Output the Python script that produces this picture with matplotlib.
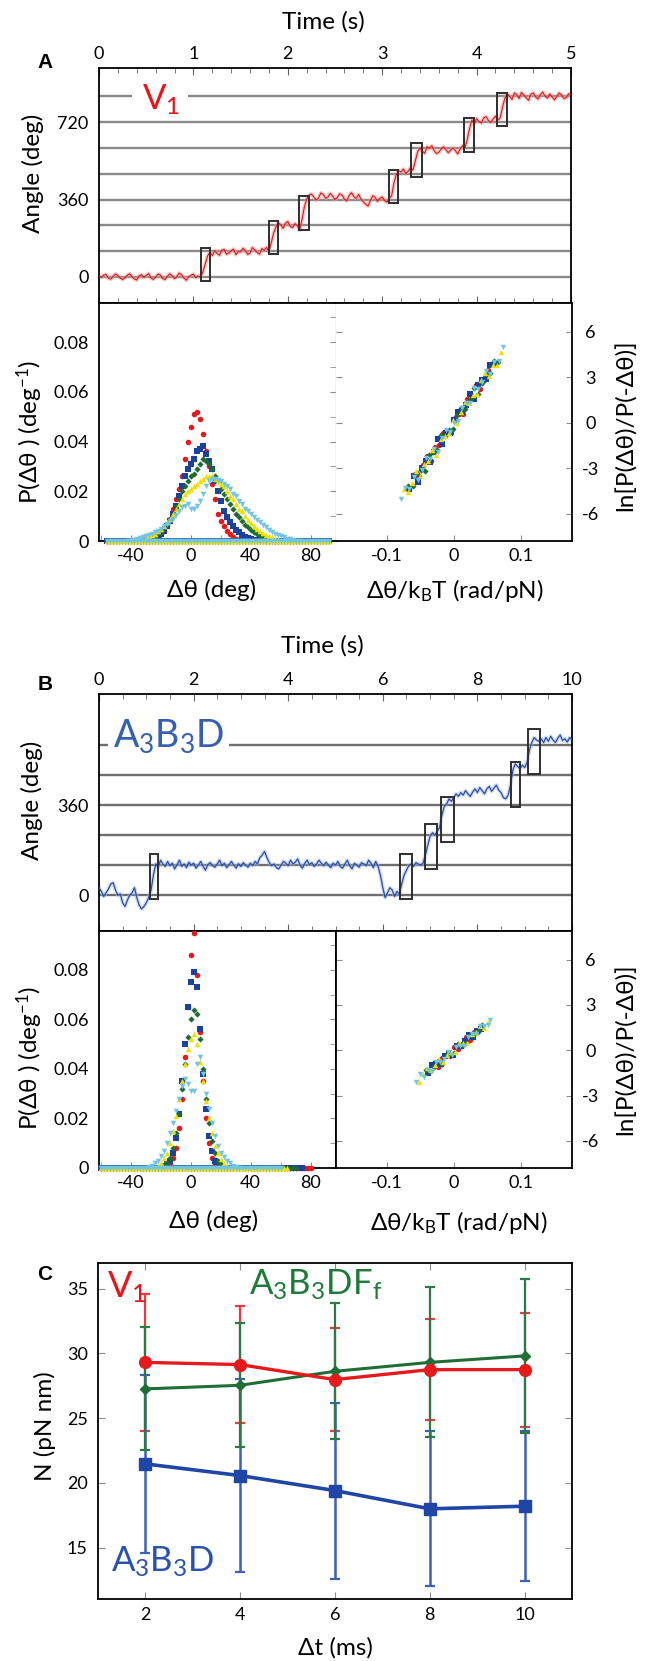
import numpy as np
import matplotlib
matplotlib.use("Agg")
import matplotlib.pyplot as plt
from matplotlib.patches import Rectangle
from matplotlib.ticker import MultipleLocator

plt.rcParams['font.family'] = ['Lato', 'DejaVu Sans']
plt.rcParams['mathtext.default'] = 'regular'
plt.rcParams['axes.unicode_minus'] = False

# ====================== DATA ======================
# ---- Panel A : V1 rotation trace (angle, deg; sampled every 0.025 s) ----
trace_a_dt = 0.025
trace_a_angle = [
    4, -2, 9, 12, -6, -10, 3, 14, 6, -5,
    -12, -3, 8, 15, 2, -9, -14, 5, 11, -2,
    7, 16, -4, -11, 0, 13, 9, -7, -12, 3,
    15, 6, -8, 2, 18, 10, -5, -15, 1, 8,
    13, -3, 5, 0, 22, 60, 98, 115, 100, 122,
    110, 101, 124, 128, 106, 112, 121, 130, 104, 118,
    117, 133, 122, 105, 111, 137, 126, 114, 106, 132,
    124, 138, 118, 160, 205, 233, 252, 244, 226, 250,
    258, 236, 229, 248, 240, 218, 265, 325, 362, 380,
    386, 372, 358, 368, 391, 384, 366, 372, 389, 376,
    360, 371, 387, 381, 362, 354, 379, 392, 373, 366,
    384, 362, 350, 338, 330, 356, 378, 370, 352, 366,
    372, 355, 348, 366, 378, 438, 478, 495, 488, 502,
    480, 492, 508, 497, 538, 582, 600, 585, 575, 606,
    598, 610, 588, 574, 580, 596, 605, 592, 578, 590,
    600, 588, 572, 594, 610, 598, 638, 690, 730, 712,
    736, 724, 716, 740, 746, 728, 719, 734, 748, 730,
    740, 790, 832, 852, 840, 826, 856, 848, 830, 858,
    846, 834, 822, 850, 856, 838, 828, 848, 860, 842,
    832, 851, 838, 824, 840, 856, 846, 830, 834, 852,
    848]
a_levels = [0, 120, 240, 360, 480, 600, 720, 840]
a_yticks = [0, 360, 720]
a_label_level = 840
a_label_gap = (0.35, 0.94)
# dwell-to-step boxes: start time, end time, lower angle, upper angle
a_box_t0 = [1.08, 1.80, 2.12, 3.07, 3.31, 3.87, 4.22]
a_box_t1 = [1.18, 1.90, 2.22, 3.17, 3.42, 3.97, 4.32]
a_box_y0 = [-20, 105, 220, 345, 465, 580, 702]
a_box_y1 = [135, 260, 375, 498, 622, 740, 858]

# ---- Panel A : histograms P(dtheta), 2-deg bins (start bin, values) ----
hA_red_start = -30
hA_red = [0, 0.0003, 0.0005, 0.001, 0.0015, 0.003, 0.004, 0.006, 0.009, 0.013,
          0.017, 0.021, 0.026, 0.033, 0.040, 0.046, 0.051, 0.052, 0.049, 0.043,
          0.036, 0.030, 0.023, 0.017, 0.011, 0.008, 0.006, 0.004, 0.0028, 0.0018,
          0.001, 0.0006, 0.0003, 0]
hA_blue_start = -32
hA_blue = [0, 0.0003, 0.0005, 0.001, 0.0015, 0.002, 0.003, 0.004, 0.006, 0.008,
           0.011, 0.014, 0.018, 0.022, 0.026, 0.029, 0.031, 0.033, 0.036, 0.037,
           0.038, 0.035, 0.032, 0.029, 0.024, 0.020, 0.016, 0.012, 0.0095, 0.0075,
           0.006, 0.0045, 0.0035, 0.0025, 0.0018, 0.0012, 0.0008, 0.0005, 0.0003, 0]
hA_green_start = -34
hA_green = [0, 0.0003, 0.0005, 0.001, 0.0015, 0.002, 0.003, 0.004, 0.0055, 0.007,
            0.009, 0.011, 0.014, 0.017, 0.020, 0.022, 0.024, 0.026, 0.027, 0.029,
            0.031, 0.033, 0.032, 0.031, 0.029, 0.026, 0.024, 0.021, 0.019, 0.017,
            0.015, 0.013, 0.011, 0.0095, 0.008, 0.0065, 0.0055, 0.0045, 0.0035, 0.0028,
            0.002, 0.0015, 0.001, 0.0007, 0.0004, 0.0002, 0]
hA_yellow_start = -38
hA_yellow = [0, 0.0003, 0.0005, 0.001, 0.0015, 0.002, 0.0025, 0.003, 0.004, 0.005,
             0.006, 0.0075, 0.009, 0.011, 0.013, 0.015, 0.017, 0.019, 0.020, 0.021,
             0.022, 0.023, 0.024, 0.025, 0.026, 0.026, 0.026, 0.025, 0.024, 0.023,
             0.022, 0.020, 0.018, 0.017, 0.015, 0.013, 0.012, 0.010, 0.0085, 0.0072,
             0.006, 0.005, 0.004, 0.0032, 0.0025, 0.002, 0.0015, 0.001, 0.0007, 0.0004,
             0.0002, 0]
hA_cyan_start = -42
hA_cyan = [0, 0.0003, 0.0005, 0.001, 0.0012, 0.0015, 0.002, 0.0025, 0.003, 0.0035,
           0.004, 0.005, 0.006, 0.007, 0.008, 0.009, 0.0105, 0.012, 0.0135, 0.014,
           0.015, 0.013, 0.013, 0.014, 0.016, 0.019, 0.022, 0.024, 0.025, 0.025,
           0.0245, 0.024, 0.023, 0.022, 0.021, 0.019, 0.018, 0.016, 0.015, 0.013,
           0.012, 0.011, 0.0095, 0.0085, 0.0075, 0.0065, 0.0055, 0.0045, 0.0035, 0.003,
           0.0025, 0.002, 0.0015, 0.001, 0.0007, 0.0004, 0.0002, 0]
hA_zero_range = (-56, 92)

# ---- Panel A : fluctuation theorem plot ----
fA_red_x = [-0.058, -0.052, -0.046, -0.040, -0.034, -0.028, -0.022, -0.016, -0.010, -0.004,
            0.002, 0.008, 0.014, 0.020, 0.026, 0.032, 0.038, 0.044, 0.050]
fA_red_y = [-3.4, -3.5, -2.8, -2.2, -2.5, -1.6, -1.5, -0.7, -0.6, -0.7,
            0.3, 0.6, 0.6, 1.6, 1.6, 2.5, 2.2, 2.8, 3.5]
fA_blue_x = [-0.066, -0.060, -0.054, -0.048, -0.042, -0.036, -0.030, -0.024, -0.018, -0.012, -0.006,
             0.000, 0.006, 0.012, 0.018, 0.024, 0.030, 0.036, 0.042, 0.048, 0.054, 0.060]
fA_blue_y = [-4.4, -3.5, -3.9, -3.0, -2.5, -2.6, -1.9, -1.1, -1.4, -0.7, -0.7,
             0.2, 0.7, 0.7, 1.2, 1.9, 1.6, 2.5, 2.8, 2.9, 3.8, 3.8]
fA_green_x = [-0.068, -0.061, -0.055, -0.049, -0.043, -0.037, -0.031, -0.025, -0.019, -0.013, -0.007,
              -0.001, 0.005, 0.011, 0.017, 0.023, 0.029, 0.035, 0.041, 0.047, 0.053, 0.059, 0.065]
fA_green_y = [-4.2, -4.2, -3.3, -3.1, -3.2, -2.1, -1.9, -1.8, -0.8, -0.9, -0.5,
              -0.4, 0.5, 1.0, 0.9, 1.6, 2.3, 1.9, 2.6, 3.2, 3.3, 4.1, 4.0]
fA_yellow_x = [-0.074, -0.068, -0.062, -0.056, -0.050, -0.044, -0.038, -0.032, -0.026, -0.020, -0.014,
               -0.008, -0.002, 0.004, 0.010, 0.016, 0.022, 0.028, 0.034, 0.040, 0.046, 0.052, 0.058,
               0.064, 0.070]
fA_yellow_y = [-4.4, -4.6, -4.0, -3.2, -3.5, -2.7, -2.5, -1.8, -2.1, -1.1, -0.9,
               -0.7, 0.2, 0.0, 0.7, 1.4, 1.3, 1.8, 1.9, 2.8, 3.3, 3.1, 3.8, 3.8, 4.7]
fA_cyan_x = [-0.079, -0.072, -0.066, -0.060, -0.054, -0.048, -0.042, -0.036, -0.030, -0.024, -0.018,
             -0.012, -0.006, 0.000, 0.006, 0.012, 0.018, 0.024, 0.030, 0.036, 0.042, 0.048, 0.054,
             0.060, 0.066, 0.072]
fA_cyan_y = [-5.0, -4.3, -4.4, -3.6, -3.8, -3.1, -2.3, -2.4, -1.7, -1.9, -1.0,
             -0.5, -0.6, 0.0, 0.1, 1.0, 1.3, 1.3, 2.3, 2.2, 2.7, 3.4, 3.2, 4.0, 4.1, 5.0]

# ---- Panel B : A3B3D rotation trace (angle, deg; sampled every 0.05 s) ----
trace_b_dt = 0.05
trace_b_angle = [
    30, 15, -5, 10, 25, 45, 50, 20, 0, 5,
    -30, -45, -20, 0, 10, 30, -10, -40, -55, -45,
    -30, -10, 20, 80, 125, 110, 140, 125, 115, 135,
    118, 128, 105, 122, 140, 115, 125, 110, 132, 120,
    128, 108, 120, 135, 115, 100, 122, 130, 118, 112,
    125, 140, 118, 128, 110, 122, 135, 120, 108, 126,
    115, 130, 120, 112, 128, 118, 135, 125, 150, 160,
    175, 150, 130, 118, 125, 110, 105, 120, 135, 128,
    118, 140, 125, 132, 145, 120, 108, 128, 140, 122,
    130, 115, 125, 140, 128, 118, 132, 120, 110, 128,
    120, 135, 115, 108, 125, 140, 118, 105, 128, 120,
    112, 130, 125, 118, 140, 128, 110, 135, 115, 80,
    30, -10, 10, 30, 20, -5, 15, 5, 45, 80,
    100, 118, 125, 115, 130, 125, 120, 128, 160, 200,
    235, 250, 240, 255, 270, 320, 355, 365, 385, 375,
    390, 405, 395, 410, 400, 418, 405, 395, 412, 425,
    410, 430, 418, 405, 425, 435, 415, 428, 440, 420,
    410, 390, 385, 400, 440, 500, 525, 515, 505, 520,
    510, 530, 580, 610, 630, 620, 615, 625, 610, 630,
    615, 635, 620, 610, 628, 640, 618, 625, 612, 630,
    620]
b_levels = [0, 120, 240, 360, 480, 600]
b_yticks = [0, 360]
b_label_level = 600
b_label_gap = (0.19, 2.74)
b_box_t0 = [1.07, 6.36, 6.89, 7.24, 8.72, 9.07]
b_box_t1 = [1.24, 6.62, 7.15, 7.50, 8.90, 9.32]
b_box_y0 = [-16, -16, 103, 211, 351, 484]
b_box_y1 = [164, 164, 283, 391, 531, 665]

# ---- Panel B : histograms ----
hB_red_start = -20
hB_red = [0, 0.0005, 0.001, 0.002, 0.004, 0.008, 0.016, 0.028, 0.045, 0.065,
          0.086, 0.095, 0.078, 0.055, 0.035, 0.020, 0.010, 0.004, 0.0015, 0.0005, 0]
hB_blue_start = -20
hB_blue = [0, 0.0007, 0.0015, 0.003, 0.006, 0.012, 0.022, 0.035, 0.050, 0.065,
           0.075, 0.079, 0.073, 0.056, 0.038, 0.024, 0.013, 0.007, 0.003, 0.0012, 0.0005, 0]
hB_green_start = -22
hB_green = [0, 0.0005, 0.001, 0.002, 0.004, 0.008, 0.014, 0.022, 0.032, 0.042,
            0.053, 0.060, 0.064, 0.062, 0.052, 0.040, 0.028, 0.018, 0.011, 0.006,
            0.003, 0.0015, 0.0007, 0]
hB_yellow_start = -26
hB_yellow = [0, 0.0005, 0.001, 0.002, 0.004, 0.006, 0.010, 0.015, 0.021, 0.028,
             0.035, 0.042, 0.048, 0.052, 0.054, 0.050, 0.043, 0.035, 0.027, 0.020,
             0.014, 0.009, 0.006, 0.0035, 0.002, 0.001, 0.0005, 0]
hB_cyan_start = -30
hB_cyan = [0, 0.0005, 0.001, 0.002, 0.003, 0.005, 0.007, 0.010, 0.014, 0.018,
           0.023, 0.028, 0.033, 0.036, 0.034, 0.031, 0.031, 0.042, 0.045, 0.038,
           0.030, 0.024, 0.018, 0.013, 0.009, 0.006, 0.0045, 0.003, 0.002, 0.001,
           0.0005, 0]
hB_zero_hi = {'red': 80, 'blue': 74, 'green': 70, 'yellow': 64, 'cyan': 60}
hB_zero_lo = -60

# ---- Panel B : fluctuation theorem plot ----
fB_red_x = [-0.030, -0.024, -0.018, -0.012, -0.006, 0.000, 0.006, 0.012, 0.018, 0.024, 0.030]
fB_red_y = [-1.0, -1.1, -0.5, -0.4, -0.4, 0.2, 0.1, 0.4, 0.9, 0.7, 1.2]
fB_blue_x = [-0.038, -0.032, -0.026, -0.020, -0.014, -0.008, -0.002, 0.004, 0.010, 0.016, 0.022,
             0.028, 0.034, 0.040]
fB_blue_y = [-1.5, -1.0, -0.9, -0.9, -0.4, -0.2, -0.3, 0.3, 0.3, 0.6, 1.0, 0.9, 1.3, 1.4]
fB_green_x = [-0.042, -0.036, -0.030, -0.024, -0.018, -0.012, -0.006, 0.000, 0.006, 0.012, 0.018,
              0.024, 0.030, 0.036, 0.042]
fB_green_y = [-1.3, -1.4, -1.1, -0.7, -0.9, -0.3, -0.2, -0.2, 0.4, 0.4, 0.5, 1.0, 1.1, 1.2, 1.7]
fB_yellow_x = [-0.052, -0.046, -0.040, -0.034, -0.028, -0.022, -0.016, -0.010, -0.004, 0.002, 0.008,
               0.014, 0.020, 0.026, 0.032, 0.038, 0.044, 0.050]
fB_yellow_y = [-2.1, -1.6, -1.2, -1.3, -1.0, -0.6, -0.8, -0.3, -0.1, -0.1, 0.5, 0.5, 0.5,
               1.1, 1.2, 1.6, 1.5, 1.9]
fB_cyan_x = [-0.057, -0.051, -0.045, -0.039, -0.033, -0.027, -0.021, -0.015, -0.009, -0.003, 0.003,
             0.009, 0.015, 0.021, 0.027, 0.033, 0.039, 0.045, 0.051, 0.054]
fB_cyan_y = [-2.1, -1.6, -1.8, -1.3, -1.4, -0.8, -0.8, -0.6, -0.1, -0.3, 0.2,
             0.3, 0.3, 0.9, 1.1, 1.1, 1.6, 1.6, 1.7, 2.0]

# ---- Panel C : torque vs. time interval ----
dt_ms = [2, 4, 6, 8, 10]
N_V1 = [29.3, 29.13, 27.97, 28.74, 28.74]
N_V1_err = [5.3, 4.5, 4.0, 3.9, 4.4]
N_DFf = [27.25, 27.53, 28.61, 29.3, 29.8]
N_DFf_err = [4.75, 4.8, 5.26, 5.8, 5.95]
N_D = [21.46, 20.56, 19.4, 17.99, 18.19]
N_D_err = [6.9, 7.45, 6.8, 6.0, 5.8]

# ====================== STYLE ======================
W, H = 646, 1661
C_RED = '#e41a1c'
C_BLUE = '#1c409e'
C_GREEN = '#1b6b33'
C_YEL = '#f0e000'
C_CYAN = '#72c5e2'
TICKC = '#8c8c8c'

fig = plt.figure(figsize=(W / 100, H / 100), dpi=100)


def place_axes(x0, y0, x1, y1):
    return fig.add_axes([x0 / W, 1 - y1 / H, (x1 - x0) / W, (y1 - y0) / H])


def ftext(x, y, s, size=17.5, rot=0, ha='center', va='center', **kw):
    return fig.text(x / W, 1 - y / H, s, fontsize=size, rotation=rot, ha=ha, va=va, **kw)


def draw_trace(rect, dt, ang, tmax, ylim, major, minor, levels, yticks, gap_level, gap,
               bx0, bx1, by0, by1, color, halo, gridcol, lw):
    ax = place_axes(*rect)
    t = np.arange(len(ang)) * dt
    for lv in levels:
        if lv == gap_level:
            ax.hlines([lv, lv], [0, gap[1]], [gap[0], tmax], color=gridcol, lw=1.7, zorder=1)
        else:
            ax.axhline(lv, color=gridcol, lw=1.7, zorder=1)
    ax.plot(t, ang, color=halo, lw=2.8, alpha=0.55, zorder=2, solid_joinstyle='round')
    ax.plot(t, ang, color=color, lw=lw, zorder=3)
    for x0, x1, y0, y1 in zip(bx0, bx1, by0, by1):
        ax.add_patch(Rectangle((x0, y0), x1 - x0, y1 - y0, fill=False,
                               ec='#2e2e2e', lw=1.4, zorder=4))
    ax.set_xlim(0, tmax)
    ax.set_ylim(*ylim)
    ax.xaxis.set_major_locator(MultipleLocator(major))
    ax.xaxis.set_minor_locator(MultipleLocator(minor))
    ax.tick_params(axis='x', which='both', direction='in', top=True, bottom=True,
                   labeltop=True, labelbottom=False, color='#666666', labelsize=13, pad=4)
    ax.tick_params(axis='x', which='major', length=5)
    ax.tick_params(axis='x', which='minor', length=3.5)
    ax.set_yticks(yticks)
    ax.tick_params(axis='y', length=0, labelsize=13, pad=7.5)
    for s in ax.spines.values():
        s.set_linewidth(1.3)
        s.set_color('black')
    return ax


def hist_points(start, vals, zlo, zhi):
    x = list(start + 2 * np.arange(len(vals)))
    y = list(vals)
    for b in range(zlo, zhi + 1, 2):
        if b < start or b > x[-1]:
            x.append(b)
            y.append(0.0)
    return np.array(x), np.array(y)


def draw_hist(rect, series, divider_color):
    ax = place_axes(*rect)
    for (x, y), c, m, s in series:
        ax.scatter(x, y, s=s, marker=m, color=c, lw=0, zorder=3, clip_on=False)
    ax.set_xlim(-61, 97)
    ax.set_ylim(0, 0.0957)
    ax.set_xticks([-40, 0, 40, 80])
    ax.xaxis.set_minor_locator(MultipleLocator(20))
    ax.set_yticks([0, 0.02, 0.04, 0.06, 0.08])
    ax.set_yticklabels(['0', '0.02', '0.04', '0.06', '0.08'])
    ax.yaxis.set_minor_locator(MultipleLocator(0.01))
    ax.tick_params(axis='both', which='both', direction='in', color=TICKC, labelsize=13)
    ax.tick_params(axis='y', which='both', left=False, right=True, labelleft=True, pad=7.5, length=4)
    ax.tick_params(axis='x', which='both', bottom=True, top=False, pad=5, length=4)
    for k, s in ax.spines.items():
        s.set_linewidth(1.3)
        s.set_color('black')
    ax.spines['right'].set_color(divider_color)
    ax.spines['right'].set_linewidth(1.3 if divider_color == 'black' else 1.0)
    return ax


def draw_ft(rect, series):
    ax = place_axes(*rect)
    for (x, y), c, m, s in series:
        ax.scatter(x, y, s=s, marker=m, color=c, lw=0, zorder=3)
    ax.set_xlim(-0.175, 0.175)
    ax.set_ylim(-7.8, 7.9)
    ax.set_xticks([-0.1, 0, 0.1])
    ax.set_xticklabels(['-0.1', '0', '0.1'])
    ax.set_yticks([-6, -3, 0, 3, 6])
    ax.tick_params(axis='both', which='both', direction='in', color=TICKC, labelsize=13, length=4)
    ax.tick_params(axis='y', left=True, right=True, labelleft=False, labelright=True, pad=13.5)
    ax.tick_params(axis='x', pad=5)
    for lbl in ax.get_yticklabels():
        lbl.set_horizontalalignment('center')
    for k, s in ax.spines.items():
        s.set_linewidth(1.3)
        s.set_color('black')
    ax.spines['left'].set_visible(False)
    return ax


# ====================== PANEL A ======================
axA = draw_trace((99, 68, 571, 303), trace_a_dt, trace_a_angle, 5, (-121, 972), 1, 0.2,
                 a_levels, a_yticks, a_label_level, a_label_gap,
                 a_box_t0, a_box_t1, a_box_y0, a_box_y1, '#de1a1a', '#f29a9a', '#8a8a8a', 0.8)
seriesA = [
    (hist_points(hA_red_start, hA_red, *hA_zero_range), C_RED, 'o', 16),
    (hist_points(hA_blue_start, hA_blue, *hA_zero_range), C_BLUE, 's', 14),
    (hist_points(hA_green_start, hA_green, *hA_zero_range), C_GREEN, 'D', 10),
    (hist_points(hA_yellow_start, hA_yellow, *hA_zero_range), C_YEL, '^', 16),
    (hist_points(hA_cyan_start, hA_cyan, *hA_zero_range), C_CYAN, 'v', 16),
]
draw_hist((99, 303, 336, 541), seriesA, '#b4b4b4')
ftA = [((fA_red_x, fA_red_y), C_RED, 'o', 15), ((fA_blue_x, fA_blue_y), C_BLUE, 's', 14),
       ((fA_green_x, fA_green_y), C_GREEN, 'D', 10), ((fA_yellow_x, fA_yellow_y), C_YEL, '^', 15),
       ((fA_cyan_x, fA_cyan_y), C_CYAN, 'v', 15)]
draw_ft((336, 303, 572, 541), ftA)

ftext(45, 62, 'A', size=15, family='Liberation Sans', fontweight='bold')
ftext(323, 22, 'Time (s)')
ftext(33, 173, 'Angle (deg)', rot=90)
ftext(30, 432, 'P(Δθ ) (deg$^{-1}$)', rot=90)
ftext(212, 590, 'Δθ (deg)')
ftext(455, 590, 'Δθ/k$_B$T (rad/pN)')
ftext(626, 425, 'ln[P(Δθ)/P(-Δθ)]', rot=90)
ftext(142, 110, 'V$_1$', size=25, ha='left', va='baseline', color='#e8141c')

# ====================== PANEL B ======================
axB = draw_trace((99, 694, 572, 931), trace_b_dt, trace_b_angle, 10, (-143, 804), 2, 0.5,
                 b_levels, b_yticks, b_label_level, b_label_gap,
                 b_box_t0, b_box_t1, b_box_y0, b_box_y1, '#2a4fa6', '#a9bde6', '#6e6e6e', 0.9)
seriesB = [
    (hist_points(hB_red_start, hB_red, hB_zero_lo, hB_zero_hi['red']), C_RED, 'o', 16),
    (hist_points(hB_blue_start, hB_blue, hB_zero_lo, hB_zero_hi['blue']), C_BLUE, 's', 14),
    (hist_points(hB_green_start, hB_green, hB_zero_lo, hB_zero_hi['green']), C_GREEN, 'D', 10),
    (hist_points(hB_yellow_start, hB_yellow, hB_zero_lo, hB_zero_hi['yellow']), C_YEL, '^', 16),
    (hist_points(hB_cyan_start, hB_cyan, hB_zero_lo, hB_zero_hi['cyan']), C_CYAN, 'v', 16),
]
draw_hist((99, 931, 336, 1168), seriesB, 'black')
ftB = [((fB_red_x, fB_red_y), C_RED, 'o', 15), ((fB_blue_x, fB_blue_y), C_BLUE, 's', 14),
       ((fB_green_x, fB_green_y), C_GREEN, 'D', 10), ((fB_yellow_x, fB_yellow_y), C_YEL, '^', 15),
       ((fB_cyan_x, fB_cyan_y), C_CYAN, 'v', 15)]
axFB = draw_ft((336, 931, 572, 1168), ftB)
axFB.spines['left'].set_visible(True)

ftext(45, 685, 'B', size=15, family='Liberation Sans', fontweight='bold')
ftext(322, 646, 'Time (s)')
ftext(32, 800, 'Angle (deg)', rot=90)
ftext(30, 1058, 'P(Δθ ) (deg$^{-1}$)', rot=90)
ftext(214, 1221, 'Δθ (deg)')
ftext(459, 1222, 'Δθ/k$_B$T (rad/pN)')
ftext(626, 1049, 'ln[P(Δθ)/P(-Δθ)]', rot=90)
ftext(113, 747, 'A$_3$B$_3$D', size=27, ha='left', va='baseline', color='#3560b0')

# ====================== PANEL C ======================
axC = place_axes(97.6, 1262.7, 572, 1599.3)
axC.errorbar(dt_ms, N_V1, yerr=N_V1_err, fmt='none', ecolor='#ea3a40', elinewidth=1.6,
             capsize=3.5, capthick=1.6, zorder=2)
axC.errorbar(dt_ms, N_D, yerr=N_D_err, fmt='none', ecolor='#3a60b8', elinewidth=1.8,
             capsize=3.5, capthick=1.6, zorder=2)
axC.errorbar(dt_ms, N_DFf, yerr=N_DFf_err, fmt='none', ecolor='#2a7a44', elinewidth=1.6,
             capsize=3.5, capthick=1.6, zorder=3)
axC.plot(dt_ms, N_DFf, color='#1f6e35', lw=2.2, marker='D', ms=5.5, zorder=4)
axC.plot(dt_ms, N_V1, color='#e41a1c', lw=2.4, marker='o', ms=8.5, zorder=5)
axC.plot(dt_ms, N_D, color='#1f45a6', lw=2.6, marker='s', ms=8.5, zorder=6)
axC.set_xlim(1, 11)
axC.set_ylim(11, 37)
axC.set_xticks([2, 4, 6, 8, 10])
axC.set_yticks([15, 20, 25, 30, 35])
axC.tick_params(axis='both', direction='in', color=TICKC, length=5, labelsize=13,
                top=True, right=True)
axC.tick_params(axis='x', pad=5.5)
axC.tick_params(axis='y', pad=7)
for s in axC.spines.values():
    s.set_linewidth(1.3)
    s.set_color('black')

ftext(45, 1275, 'C', size=15, family='Liberation Sans', fontweight='bold')
ftext(45, 1426, 'N (pN nm)', rot=90)
ftext(335, 1648, 'Δt (ms)')
ftext(107, 1297, 'V$_1$', size=26, ha='left', va='baseline', color='#e8141c')
ftext(249, 1295, 'A$_3$B$_3$DF$_f$', size=25, ha='left', va='baseline', color='#1f7a3a')
ftext(111, 1572, 'A$_3$B$_3$D', size=25, ha='left', va='baseline', color='#2a52ad')

fig.savefig('out.png', dpi=100)
